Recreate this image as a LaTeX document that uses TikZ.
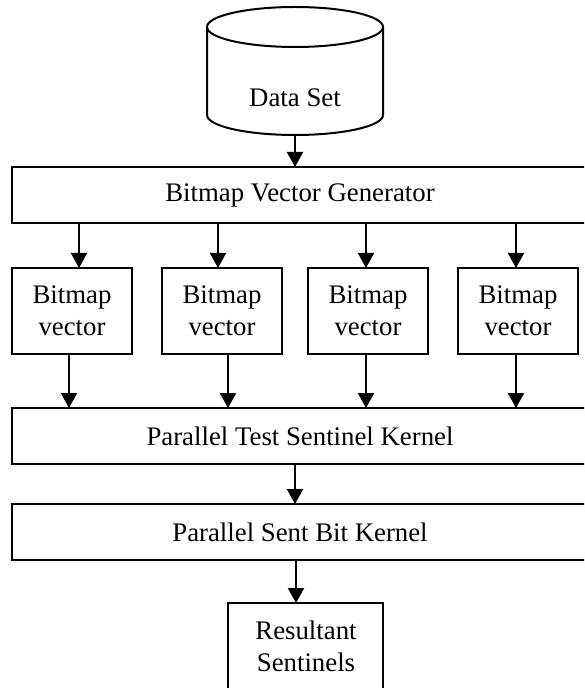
\documentclass[tikz,border=0pt]{standalone}
\usepackage{fontspec}
\setmainfont{Liberation Serif}
\usetikzlibrary{arrows.meta,calc}
\begin{document}
\begin{tikzpicture}[x=0.5pt,y=-0.5pt,
  every node/.style={font=\fontsize{13.4}{16}\selectfont, inner sep=0pt, outer sep=0pt},
  box/.style={draw, line width=1pt, anchor=north west},
  widebox/.style={box, minimum width=300pt, minimum height=28pt},
  vecbox/.style={box, minimum width=60pt, minimum height=43pt, align=center},
  flow/.style={line width=1pt, -{Triangle[width=8pt,length=7.5pt]}},
  outline/.style={line width=1pt}
]
\path[use as bounding box, clip] (0,0) rectangle (584,688);

% data store drawn as a cylinder
\draw[outline] (207,27) -- (207,115)
  arc[start angle=180, end angle=360, x radius=44pt, y radius=10pt] -- (383,27);
\draw[outline] (295,27) ellipse[x radius=44pt, y radius=10pt];
\node (data) at (295,98) {Data Set};
\coordinate (databot) at (295,135);

% generator stage
\node[widebox] (gen) at (12,167) {};
\node (genlbl) at (300,195) {Bitmap Vector Generator};

% bitmap vectors
\node[vecbox] (v1) at (12,268)  {Bitmap\\vector};
\node[vecbox] (v2) at (162,268) {Bitmap\\vector};
\node[vecbox] (v3) at (308,268) {Bitmap\\vector};
\node[vecbox] (v4) at (458,268) {Bitmap\\vector};

% kernels
\node[widebox] (ptsk) at (12,408) {};
\node (ptsklbl) at (300,436) {Parallel Test Sentinel Kernel};
\node[widebox] (psbk) at (12,504) {};
\node (psbklbl) at (300,532) {Parallel Sent Bit Kernel};

% result
\node[box, minimum width=77.5pt, minimum height=50pt] (res) at (228,603) {};
\node[align=center] (reslbl) at (306,646) {Resultant\\Sentinels};

% connectors
\draw[flow] (databot) -- (databot |- gen.north);

\draw[flow] ($(v1.north |- gen.south)+(7,0)$) -- ($(v1.north)+(7,0)$);
\draw[flow] ($(v2.north |- gen.south)+(-4,0)$) -- ($(v2.north)+(-4,0)$);
\draw[flow] ($(v3.north |- gen.south)+(-2,0)$) -- ($(v3.north)+(-2,0)$);
\draw[flow] ($(v4.north |- gen.south)+(-2,0)$) -- ($(v4.north)+(-2,0)$);

\draw[flow] ($(v1.south)+(-3,0)$) -- ($(v1.south |- ptsk.north)+(-3,0)$);
\draw[flow] ($(v2.south)+(6,0)$) -- ($(v2.south |- ptsk.north)+(6,0)$);
\draw[flow] ($(v3.south)+(-2,0)$) -- ($(v3.south |- ptsk.north)+(-2,0)$);
\draw[flow] ($(v4.south)+(-2,0)$) -- ($(v4.south |- ptsk.north)+(-2,0)$);

\draw[flow] ($(ptsklbl |- ptsk.south)+(-5,0)$) -- ($(ptsklbl |- psbk.north)+(-5,0)$);
\draw[flow] ($(res.north |- psbk.south)+(-9.5,0)$) -- ($(res.north)+(-9.5,0)$);
\end{tikzpicture}
\end{document}
